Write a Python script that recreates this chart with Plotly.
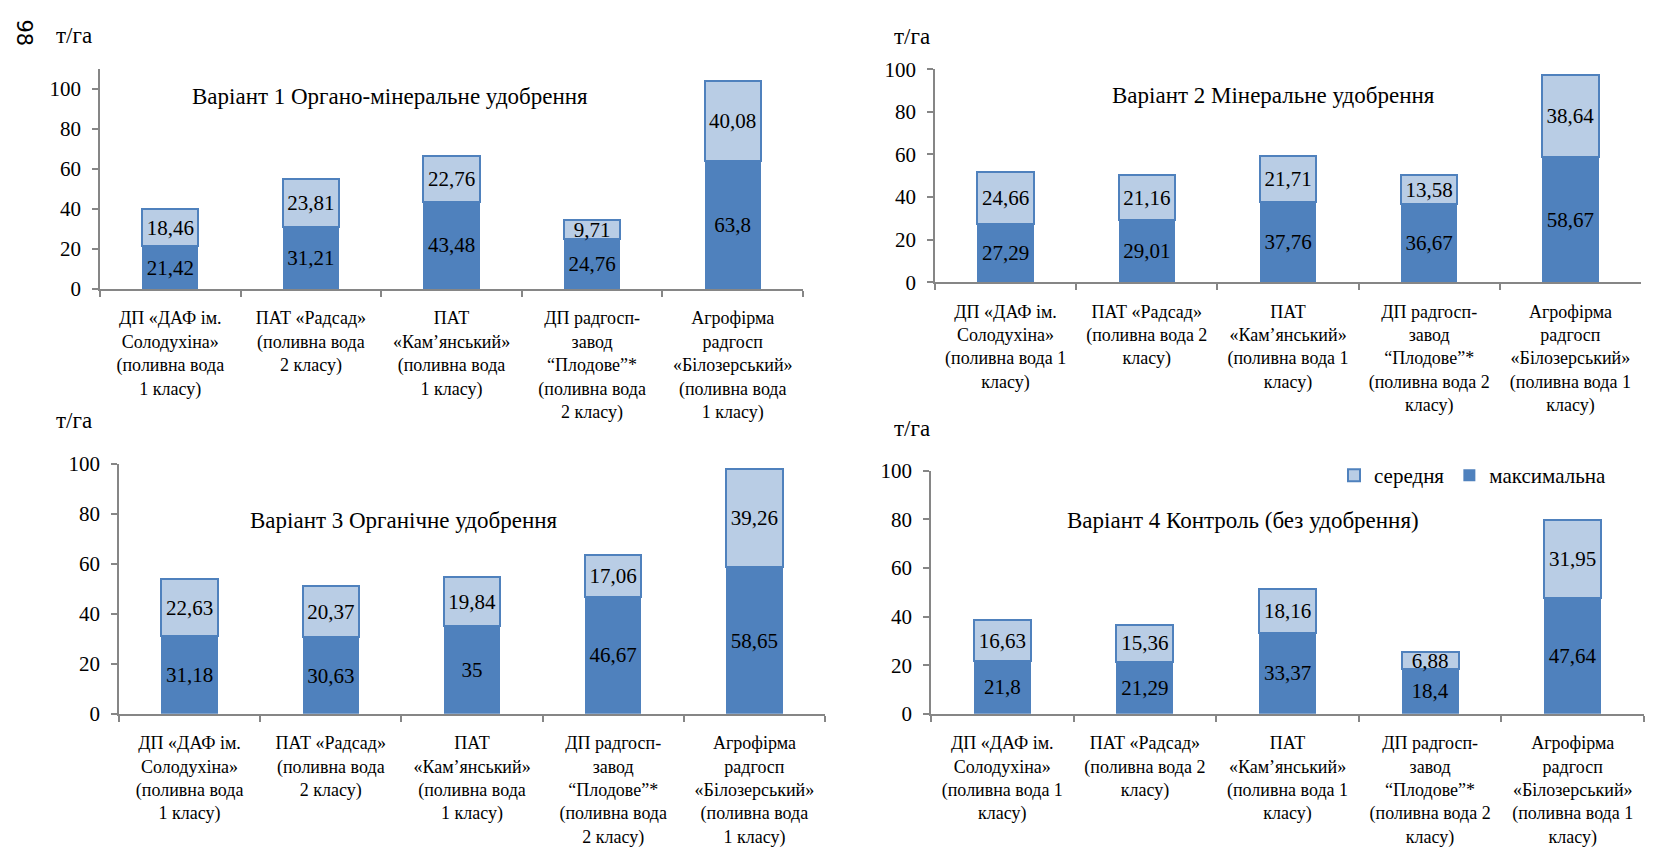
import plotly.graph_objects as go
from plotly.subplots import make_subplots

# ---------------- data ----------------
cats_left = [
    "ДП «ДАФ ім.<br>Солодухіна»<br>(поливна вода<br>1 класу)",
    "ПАТ «Радсад»<br>(поливна вода<br>2 класу)",
    "ПАТ<br>«Кам’янський»<br>(поливна вода<br>1 класу)",
    "ДП радгосп-<br>завод<br>“Плодове”*<br>(поливна вода<br>2 класу)",
    "Агрофірма<br>радгосп<br>«Білозерський»<br>(поливна вода<br>1 класу)",
]
cats_right = [
    "ДП «ДАФ ім.<br>Солодухіна»<br>(поливна вода 1<br>класу)",
    "ПАТ «Радсад»<br>(поливна вода 2<br>класу)",
    "ПАТ<br>«Кам’янський»<br>(поливна вода 1<br>класу)",
    "ДП радгосп-<br>завод<br>“Плодове”*<br>(поливна вода 2<br>класу)",
    "Агрофірма<br>радгосп<br>«Білозерський»<br>(поливна вода 1<br>класу)",
]

titles = [
    "Варіант 1 Органо-мінеральне удобрення",
    "Варіант 2 Мінеральне удобрення",
    "Варіант 3 Органічне удобрення",
    "Варіант 4 Контроль (без удобрення)",
]

v1_max = [21.42, 31.21, 43.48, 24.76, 63.8]
v1_avg = [18.46, 23.81, 22.76, 9.71, 40.08]
v2_max = [27.29, 29.01, 37.76, 36.67, 58.67]
v2_avg = [24.66, 21.16, 21.71, 13.58, 38.64]
v3_max = [31.18, 30.63, 35, 46.67, 58.65]
v3_avg = [22.63, 20.37, 19.84, 17.06, 39.26]
v4_max = [21.8, 21.29, 33.37, 18.4, 47.64]
v4_avg = [16.63, 15.36, 18.16, 6.88, 31.95]

y_ticks = [0, 20, 40, 60, 80, 100]
y_ranges = [[0, 110], [0, 100], [0, 100], [0, 100]]
unit = "т/га"
name_max = "максимальна"
name_avg = "середня"
page_no = "98"

# ---------------- style ----------------
FONT = "Liberation Serif"
C_MAX = "#4F81BD"
C_AVG = "#B9CDE5"
AXC = "#868686"

def fmt(v):
    return f"{v:g}".replace(".", ",")

panels = [
    (1, 1, cats_left, v1_max, v1_avg),
    (1, 2, cats_right, v2_max, v2_avg),
    (2, 1, cats_left, v3_max, v3_avg),
    (2, 2, cats_right, v4_max, v4_avg),
]

fig = make_subplots(rows=2, cols=2)

for i, (r, c, cats, vmax, vavg) in enumerate(panels):
    show = (i == 3)
    fig.add_trace(go.Bar(
        x=cats, y=vmax, name=name_max, legendgroup="max", showlegend=show,
        marker=dict(color=C_MAX, line=dict(color=C_MAX, width=0)),
        text=[fmt(v) for v in vmax], textposition="inside",
        insidetextanchor="middle", textangle=0,
        textfont=dict(family=FONT, size=21, color="black"),
        hoverinfo="skip",
    ), row=r, col=c)
    fig.add_trace(go.Bar(
        x=cats, y=vavg, name=name_avg, legendgroup="avg", showlegend=show,
        marker=dict(color=C_AVG, line=dict(color=C_MAX, width=2)),
        text=[fmt(v) for v in vavg], textposition="inside",
        insidetextanchor="middle", textangle=0,
        textfont=dict(family=FONT, size=21, color="black"),
        hoverinfo="skip",
    ), row=r, col=c)

W, H = 1653, 857
# pixel geometry of plot areas: (x0, x1, ytop, ybottom)
geo = [
    (100, 803, 58.4, 285),
    (935, 1641, 59, 278),
    (119, 825, 465, 722),
    (931, 1644, 472, 722),
]
axis_names = [("xaxis", "yaxis"), ("xaxis2", "yaxis2"), ("xaxis3", "yaxis3"), ("xaxis4", "yaxis4")]
for (xa, ya), (x0, x1, yt, yb), rng in zip(axis_names, geo, y_ranges):
    fig.layout[xa].update(
        domain=[x0 / W, x1 / W], showline=True, linecolor=AXC, linewidth=1.5,
        ticks="outside", tickson="boundaries", ticklen=6, tickcolor=AXC,
        tickwidth=1.5, showgrid=False, zeroline=False,
        tickfont=dict(family=FONT, size=18, color="black"),
        ticklabelstandoff=12,
    )
    fig.layout[ya].update(
        domain=[1 - yb / H, 1 - yt / H], range=rng, tickvals=y_ticks,
        showline=True, linecolor=AXC, linewidth=1.5, ticks="outside",
        ticklen=6, tickcolor=AXC, tickwidth=1.5, showgrid=False,
        zeroline=False, tickfont=dict(family=FONT, size=21, color="black"),
        ticklabelstandoff=7,
    )

annos = []
title_pos = [(390, 87), (1273, 86), (404, 523), (1243, 523)]
for t, (px, py) in zip(titles, title_pos):
    annos.append(dict(text=t, x=px / W, y=1 - py / H, xref="paper", yref="paper",
                      showarrow=False, xanchor="center", yanchor="middle",
                      font=dict(family=FONT, size=23, color="black")))
unit_pos = [(74, 24), (912, 25), (74, 420), (912, 428)]
for px, py in unit_pos:
    annos.append(dict(text=unit, x=px / W, y=1 - py / H, xref="paper", yref="paper",
                      showarrow=False, xanchor="center", yanchor="middle",
                      font=dict(family=FONT, size=23, color="black")))
annos.append(dict(text=page_no, x=24 / W, y=1 - 21 / H, xref="paper", yref="paper",
                  showarrow=False, xanchor="center", yanchor="middle", textangle=90,
                  font=dict(family="DejaVu Sans", size=21, color="black")))

fig.update_layout(
    width=W, height=H, margin=dict(l=0, r=0, t=0, b=0),
    paper_bgcolor="white", plot_bgcolor="white",
    barmode="stack", bargap=0.6,
    uniformtext=dict(minsize=21, mode="show"),
    font=dict(family=FONT, color="black"),
    showlegend=True,
    legend=dict(orientation="h", traceorder="reversed", x=1612 / W, xanchor="right",
                y=1 - 477 / H, yanchor="middle", bgcolor="rgba(0,0,0,0)",
                font=dict(family=FONT, size=21, color="black"),
                itemwidth=30),
    annotations=annos,
)

fig.write_html(
    "out.html",
    config={"displayModeBar": False},
    post_script="document.body.style.margin='0';document.body.style.overflow='hidden';",
)
